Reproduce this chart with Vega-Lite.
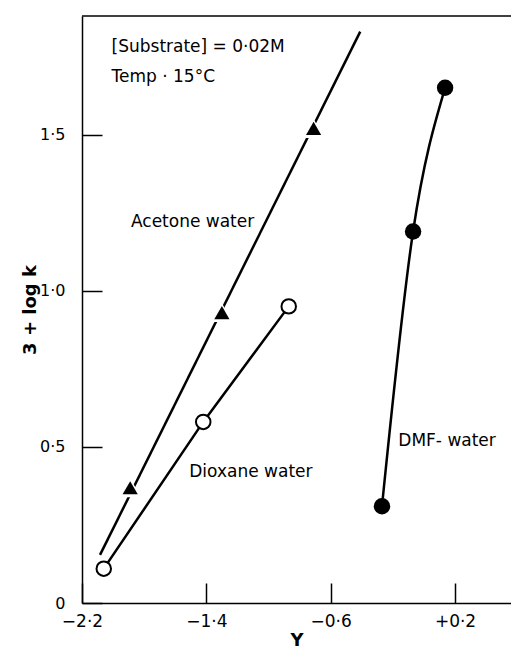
{
  "$schema": "https://vega.github.io/schema/vega-lite/v6.json",
  "width": 429,
  "height": 587,
  "autosize": {"type": "none"},
  "padding": {"left": 82, "top": 16, "right": 0, "bottom": 49},
  "background": "white",
  "config": {"view": {"stroke": null}, "font": "DejaVu Sans"},
  "datasets": {
    "acetoneLine": [{"x": -2.084, "y": 0.154}, {"x": -0.41, "y": 1.83}],
    "acetone": [{"x": -1.89, "y": 0.369}, {"x": -1.30, "y": 0.93}, {"x": -0.71, "y": 1.52}],
    "dioxane": [{"x": -2.06, "y": 0.11}, {"x": -1.42, "y": 0.58}, {"x": -0.87, "y": 0.95}],
    "dmf": [{"x": -0.27, "y": 0.31}, {"x": -0.07, "y": 1.19}, {"x": 0.136, "y": 1.65}],
    "notes": [
      {"x": -2.01, "y": 1.78, "label": "[Substrate] = 0·02M"},
      {"x": -2.01, "y": 1.685, "label": "Temp  ·  15°C"},
      {"x": -1.885, "y": 1.22, "label": "Acetone water"},
      {"x": -1.51, "y": 0.42, "label": "Dioxane water"},
      {"x": -0.165, "y": 0.52, "label": "DMF- water"}
    ],
    "top": [{"y": 1.88}]
  },
  "layer": [
    {
      "data": {"name": "acetoneLine"},
      "mark": {"type": "line", "color": "black", "strokeWidth": 2.5},
      "encoding": {
        "x": {"field": "x", "type": "quantitative", "scale": {"domain": [-2.2, 0.56], "nice": false, "zero": false},
          "axis": {"title": "Y", "titleFontSize": 18, "titleFontWeight": "bold", "titleColor": "black", "titlePadding": 2,
            "values": [-2.2, -1.4, -0.6, 0.2], "labelExpr": "(datum.value > 0 ? '+' : (datum.value < 0 ? '−' : '')) + replace(format(abs(datum.value), '.1f'), '.', '·')",
            "labelFontSize": 17, "labelColor": "black", "labelPadding": 30, "labelFlush": false,
            "tickSize": -20, "tickColor": "black", "tickWidth": 1.5, "domainColor": "black", "domainWidth": 1.5, "grid": false}},
        "y": {"field": "y", "type": "quantitative", "scale": {"domain": [0, 1.88], "nice": false},
          "axis": {"title": "3 + log k", "titleFontSize": 18, "titleFontWeight": "bold", "titleColor": "black", "titlePadding": 0,
            "values": [0, 0.5, 1, 1.5], "labelExpr": "datum.value == 0 ? '0' : replace(format(datum.value, '.1f'), '.', '·')",
            "labelFontSize": 16, "labelColor": "black", "labelPadding": 37, "labelFlush": false,
            "tickSize": -20, "tickColor": "black", "tickWidth": 1.5, "domainColor": "black", "domainWidth": 1.5, "grid": false}}
      }
    },
    {
      "data": {"name": "top"},
      "mark": {"type": "rule", "color": "black", "strokeWidth": 1.5},
      "encoding": {"y": {"field": "y", "type": "quantitative"}}
    },
    {
      "data": {"name": "dioxane"},
      "mark": {"type": "line", "color": "black", "strokeWidth": 2.5},
      "encoding": {"x": {"field": "x", "type": "quantitative"}, "y": {"field": "y", "type": "quantitative"}}
    },
    {
      "data": {"name": "dmf"},
      "mark": {"type": "line", "color": "black", "strokeWidth": 2.5, "interpolate": "monotone"},
      "encoding": {"x": {"field": "x", "type": "quantitative"}, "y": {"field": "y", "type": "quantitative"}}
    },
    {
      "data": {"name": "acetone"},
      "mark": {"type": "point", "shape": "triangle-up", "filled": true, "fill": "white", "size": 480, "opacity": 1},
      "encoding": {"x": {"field": "x", "type": "quantitative"}, "y": {"field": "y", "type": "quantitative"}}
    },
    {
      "data": {"name": "acetone"},
      "mark": {"type": "point", "shape": "triangle-up", "filled": true, "fill": "black", "size": 230, "opacity": 1},
      "encoding": {"x": {"field": "x", "type": "quantitative"}, "y": {"field": "y", "type": "quantitative"}}
    },
    {
      "data": {"name": "dioxane"},
      "mark": {"type": "point", "shape": "circle", "filled": false, "fill": "white", "fillOpacity": 1, "stroke": "black", "strokeWidth": 2, "size": 210, "opacity": 1},
      "encoding": {"x": {"field": "x", "type": "quantitative"}, "y": {"field": "y", "type": "quantitative"}}
    },
    {
      "data": {"name": "dmf"},
      "mark": {"type": "point", "shape": "circle", "filled": true, "fill": "black", "size": 270, "opacity": 1},
      "encoding": {"x": {"field": "x", "type": "quantitative"}, "y": {"field": "y", "type": "quantitative"}}
    },
    {
      "data": {"name": "notes"},
      "mark": {"type": "text", "align": "left", "baseline": "middle", "fontSize": 17, "color": "black"},
      "encoding": {"x": {"field": "x", "type": "quantitative"}, "y": {"field": "y", "type": "quantitative"}, "text": {"field": "label"}}
    }
  ]
}
